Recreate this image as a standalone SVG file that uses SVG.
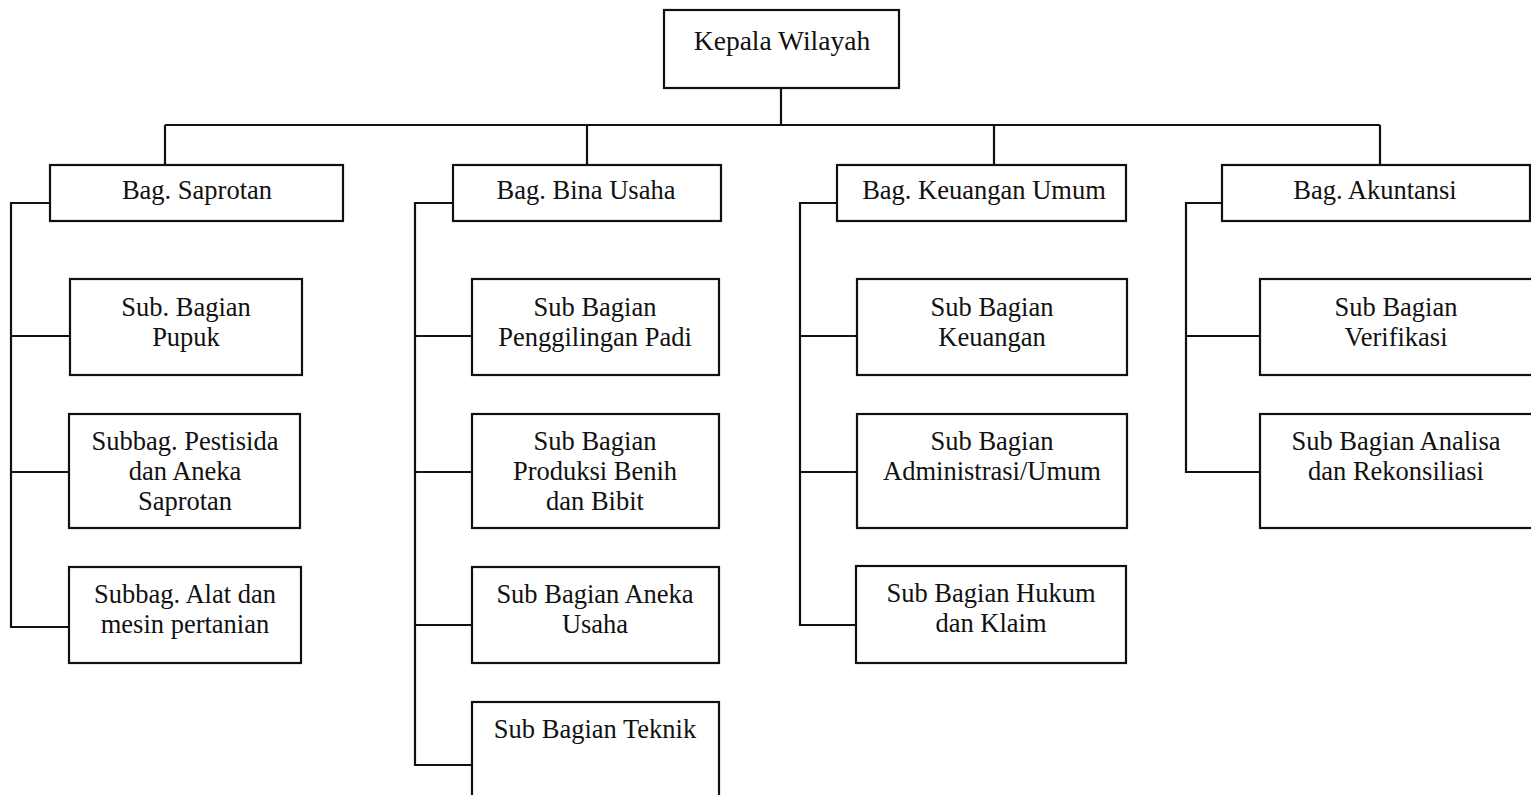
<svg xmlns="http://www.w3.org/2000/svg" width="1531" height="795" viewBox="0 0 1531 795">
<style>
.box{fill:#fff;stroke:#111;stroke-width:2.2}
.ln{fill:none;stroke:#111;stroke-width:2.2}
text{font-family:"Liberation Serif","Times New Roman",serif;font-size:26.5px;fill:#111;text-anchor:middle}
</style>
<rect width="1531" height="795" fill="#fff"/>
<g id="connectors" class="ln">
<path d="M781 88V125M165 125H1380M165 125V165M587 125V165M994 125V165M1380 125V165"/>
<path d="M50 203H11V627H70M11 336H70M11 472H70"/>
<path d="M453 203H415V765H472M415 336H472M415 472H472M415 625H472"/>
<path d="M837 203H800V625H857M800 336H857M800 472H857"/>
<path d="M1222 203H1186V472H1260M1186 336H1260"/>
</g>
<g id="kepala"><rect class="box" x="664" y="10" width="235" height="78"/><text x="782" y="50" style="font-size:27.5px">Kepala Wilayah</text></g>
<g id="bag-saprotan"><rect class="box" x="50" y="165" width="293" height="56"/><text x="197" y="199">Bag. Saprotan</text></g>
<g id="bag-bina-usaha"><rect class="box" x="453" y="165" width="268" height="56"/><text x="586" y="199">Bag. Bina Usaha</text></g>
<g id="bag-keuangan-umum"><rect class="box" x="837" y="165" width="289" height="56"/><text x="984" y="199">Bag. Keuangan Umum</text></g>
<g id="bag-akuntansi"><rect class="box" x="1222" y="165" width="308" height="56"/><text x="1375" y="199">Bag. Akuntansi</text></g>
<g id="sub-pupuk"><rect class="box" x="70" y="279" width="232" height="96"/><text x="186" y="316">Sub. Bagian</text><text x="186" y="346">Pupuk</text></g>
<g id="sub-pestisida"><rect class="box" x="69" y="414" width="231" height="114"/><text x="185" y="450">Subbag. Pestisida</text><text x="185" y="480">dan Aneka</text><text x="185" y="510">Saprotan</text></g>
<g id="sub-alat"><rect class="box" x="69" y="567" width="232" height="96"/><text x="185" y="603">Subbag. Alat dan</text><text x="185" y="633">mesin pertanian</text></g>
<g id="sub-penggilingan"><rect class="box" x="472" y="279" width="247" height="96"/><text x="595" y="316">Sub Bagian</text><text x="595" y="346">Penggilingan Padi</text></g>
<g id="sub-produksi"><rect class="box" x="472" y="414" width="247" height="114"/><text x="595" y="450">Sub Bagian</text><text x="595" y="480">Produksi Benih</text><text x="595" y="510">dan Bibit</text></g>
<g id="sub-aneka-usaha"><rect class="box" x="472" y="567" width="247" height="96"/><text x="595" y="603">Sub Bagian Aneka</text><text x="595" y="633">Usaha</text></g>
<g id="sub-teknik"><rect class="box" x="472" y="702" width="247" height="100"/><text x="595" y="738">Sub Bagian Teknik</text></g>
<g id="sub-keuangan"><rect class="box" x="857" y="279" width="270" height="96"/><text x="992" y="316">Sub Bagian</text><text x="992" y="346">Keuangan</text></g>
<g id="sub-administrasi"><rect class="box" x="857" y="414" width="270" height="114"/><text x="992" y="450">Sub Bagian</text><text x="992" y="480">Administrasi/Umum</text></g>
<g id="sub-hukum"><rect class="box" x="856" y="566" width="270" height="97"/><text x="991" y="602">Sub Bagian Hukum</text><text x="991" y="632">dan Klaim</text></g>
<g id="sub-verifikasi"><rect class="box" x="1260" y="279" width="275" height="96"/><text x="1396" y="316">Sub Bagian</text><text x="1396" y="346">Verifikasi</text></g>
<g id="sub-analisa"><rect class="box" x="1260" y="414" width="275" height="114"/><text x="1396" y="450">Sub Bagian Analisa</text><text x="1396" y="480">dan Rekonsiliasi</text></g>
</svg>
